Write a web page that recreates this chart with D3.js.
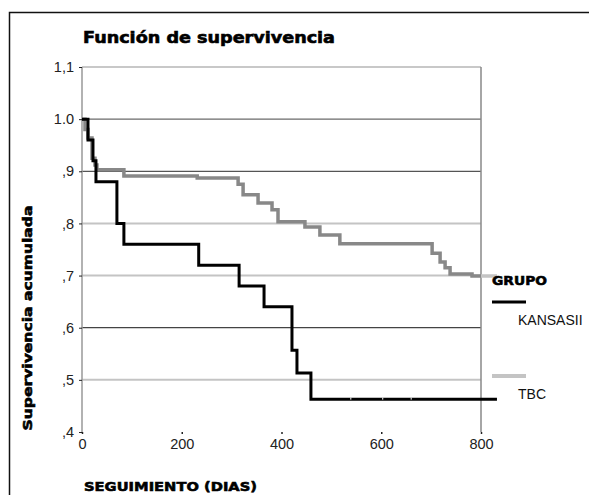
<!DOCTYPE html>
<html>
<head>
    <meta charset="utf-8">
    <title>Función de supervivencia</title>
    <style>
        html, body {
            margin: 0;
            background: #fff;
        }
        svg text {
            font-family: "Liberation Sans", Arial, sans-serif;
        }
        .negrita {
            font-family: "DejaVu Sans", sans-serif;
            font-weight: bold;
            stroke: #000;
            stroke-width: 0.6px;
        }
    </style>
    <script src="https://d3js.org/d3.v7.min.js"></script>
</head>
<body>
    <svg id="chart"></svg>
    <script>
        // valores (Kaplan-Meier)
        const kansasiiDias   = [0, 12, 22, 28, 70, 84, 234, 315, 365, 421, 431, 459, 832];
        const kansasiiSuperv = [1.0, 0.96, 0.92, 0.88, 0.80, 0.76, 0.72, 0.68, 0.64, 0.557, 0.513, 0.463, 0.463];
        const kansasiiCensura = [539, 603, 660];

        const tbcDias   = [0, 6, 12, 20, 26, 30, 84, 231, 313, 323, 353, 381, 393, 447, 477, 517, 702, 718, 728, 738, 782, 832];
        const tbcSuperv = [1.0, 0.98, 0.964, 0.925, 0.912, 0.903, 0.891, 0.887, 0.875, 0.855, 0.839, 0.826, 0.803, 0.793, 0.778, 0.761, 0.743, 0.726, 0.715, 0.703, 0.699, 0.699];

        const yTicks = [1.1, 1.0, 0.9, 0.8, 0.7, 0.6, 0.5, 0.4];
        const yTickLabels = ["1,1", "1.0", ",9", ",8", ",7", ",6", ",5", ",4"];
        const xTicks = [0, 200, 400, 600, 800];
        const grupos = ["KANSASII", "TBC"];

        const W = 589, H = 495;
        const svg = d3.select("#chart").attr("width", W).attr("height", H);

        // marco exterior
        svg.append("rect")
            .attr("x", 9.5).attr("y", 12.5)
            .attr("width", 700).attr("height", 700)
            .attr("fill", "none").attr("stroke", "#111").attr("stroke-width", 1.5);

        const x = d3.scaleLinear().domain([0, 800]).range([82, 481]);
        const y = d3.scaleLinear().domain([0.4, 1.1]).range([432, 67]);

        // lineas de la cuadricula (algunas oscuras, otras claras como en el original)
        const gridColor = { "1.1": "#c8c8c8", "1": "#6a6a6a", "0.9": "#555", "0.8": "#c4c4c4", "0.7": "#c4c4c4", "0.6": "#444", "0.5": "#c4c4c4" };
        svg.append("g").selectAll("line")
            .data(yTicks.filter(d => d > 0.4))
            .enter()
            .append("line")
            .attr("x1", x(0)).attr("x2", x(800))
            .attr("y1", d => y(d)).attr("y2", d => y(d))
            .attr("stroke", d => gridColor[String(+d.toFixed(1))])
            .attr("stroke-width", d => (d === 1.1 || d === 0.8 || d === 0.7 || d === 0.5) ? 2 : 1.3);

        // eje izquierdo y linea derecha
        svg.append("line")
            .attr("x1", x(0)).attr("x2", x(0)).attr("y1", y(1.1)).attr("y2", y(0.4))
            .attr("stroke", "#999").attr("stroke-width", 1.5);
        svg.append("line")
            .attr("x1", x(800)).attr("x2", x(800)).attr("y1", y(1.1)).attr("y2", y(0.4))
            .attr("stroke", "#888").attr("stroke-width", 1.5);

        const yAxis = d3.axisLeft(y)
            .tickValues(yTicks)
            .tickSize(3)
            .tickFormat((d, i) => yTickLabels[i]);
        const gy = svg.append("g").attr("transform", "translate(82,0)").call(yAxis);
        gy.select(".domain").remove();
        gy.selectAll(".tick line").attr("stroke", "#222");
        gy.selectAll(".tick text").attr("x", -8).attr("font-size", "14.5px").attr("fill", "#222")
            .attr("font-family", "Liberation Sans, Arial, sans-serif");

        const xAxis = d3.axisBottom(x).tickValues(xTicks).tickSize(2).tickFormat(d3.format("d"));
        const gx = svg.append("g").attr("transform", "translate(0,432)").call(xAxis);
        gx.select(".domain").remove();
        gx.selectAll(".tick line").attr("stroke", "#222").attr("stroke-width", 1.5);
        gx.selectAll(".tick text").attr("y", 7).attr("font-size", "14.5px").attr("fill", "#222")
            .attr("font-family", "Liberation Sans, Arial, sans-serif");

        // curvas escalonadas
        const line = d3.line()
            .x(d => x(d[0]))
            .y(d => y(d[1]))
            .curve(d3.curveStepAfter);

        const tbc = tbcDias.map((d, i) => [d, tbcSuperv[i]]);
        const kan = kansasiiDias.map((d, i) => [d, kansasiiSuperv[i]]);

        const defs = svg.append("defs");
        defs.append("clipPath").attr("id", "dentro")
            .append("rect").attr("x", 0).attr("y", 0).attr("width", x(800)).attr("height", H);
        defs.append("clipPath").attr("id", "fuera")
            .append("rect").attr("x", x(800)).attr("y", 0).attr("width", 200).attr("height", H);

        svg.append("path").datum(tbc)
            .attr("d", line).attr("fill", "none")
            .attr("stroke", "#888").attr("stroke-width", 3.5)
            .attr("clip-path", "url(#dentro)");
        svg.append("path").datum(tbc)
            .attr("d", line).attr("fill", "none")
            .attr("stroke", "#c4c4c4").attr("stroke-width", 3.5)
            .attr("clip-path", "url(#fuera)");

        svg.append("path").datum(kan)
            .attr("d", line).attr("fill", "none")
            .attr("stroke", "#000").attr("stroke-width", 3);

        // marcas de censura
        svg.selectAll(".censura")
            .data(kansasiiCensura)
            .enter()
            .append("line")
            .attr("class", "censura")
            .attr("x1", d => x(d)).attr("x2", d => x(d))
            .attr("y1", y(0.463) - 1.5).attr("y2", y(0.463) + 0.5)
            .attr("stroke", "#fff").attr("stroke-width", 1);

        // titulos
        svg.append("text")
            .attr("class", "negrita")
            .attr("x", 83).attr("y", 43)
            .attr("font-size", "15px")
            .attr("textLength", 252).attr("lengthAdjust", "spacingAndGlyphs")
            .text("Función de supervivencia");

        svg.append("text")
            .attr("class", "negrita")
            .attr("transform", "translate(32,318) rotate(-90)")
            .attr("text-anchor", "middle")
            .attr("font-size", "13px")
            .attr("textLength", 225).attr("lengthAdjust", "spacingAndGlyphs")
            .text("Supervivencia acumulada");

        svg.append("text")
            .attr("class", "negrita")
            .attr("x", 84).attr("y", 491)
            .attr("font-size", "13px")
            .attr("textLength", 173).attr("lengthAdjust", "spacingAndGlyphs")
            .text("SEGUIMIENTO (DIAS)");

        // leyenda
        svg.append("text")
            .attr("class", "negrita")
            .attr("x", 492).attr("y", 285)
            .attr("font-size", "13px")
            .attr("textLength", 55).attr("lengthAdjust", "spacingAndGlyphs")
            .text("GRUPO");

        const leyColor = ["#000", "#c4c4c4"];
        const leyY = [302, 376];
        const ley = svg.selectAll(".ley")
            .data(grupos)
            .enter()
            .append("g")
            .attr("class", "ley")
            .attr("transform", (d, i) => "translate(492," + leyY[i] + ")");
        ley.append("line")
            .attr("x1", 0).attr("x2", 34)
            .attr("stroke", (d, i) => leyColor[i])
            .attr("stroke-width", (d, i) => i === 0 ? 3 : 4);
        ley.append("text")
            .attr("x", 26).attr("y", 23)
            .attr("font-size", "14px").attr("fill", "#111")
            .text(d => d);
    </script>
</body>
</html>
